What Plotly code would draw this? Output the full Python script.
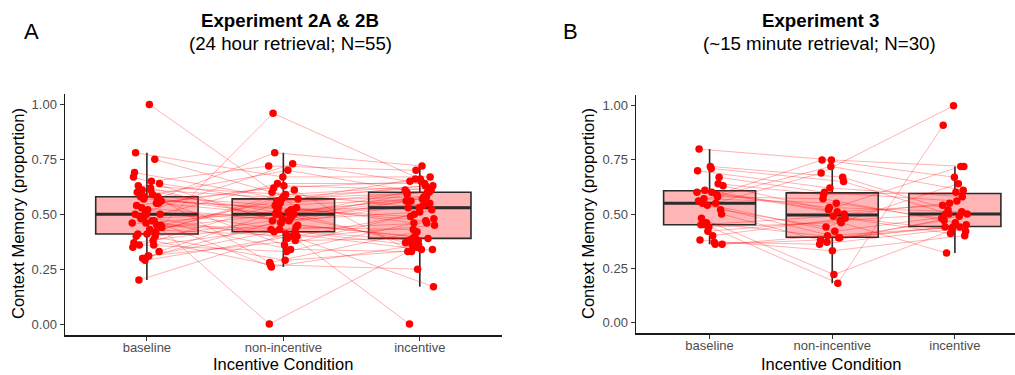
import numpy as np
import plotly.graph_objects as go

# ---------------- data ----------------
categories = ["baseline", "non-incentive", "incentive"]
y_tick_vals = [0.0, 0.25, 0.5, 0.75, 1.0]
y_tick_text = ["0.00", "0.25", "0.50", "0.75", "1.00"]

# Experiment 2A & 2B (N=55), one entry per subject
exp2_baseline = [0.50, 0.36, 0.61, 0.45, 1.00, 0.41, 0.55, 0.29, 0.67, 0.47,
                 0.58, 0.33, 0.52, 0.40, 0.75, 0.48, 0.44, 0.62, 0.20, 0.57,
                 0.46, 0.69, 0.38, 0.53, 0.50, 0.31, 0.60, 0.42, 0.58, 0.35,
                 0.65, 0.49, 0.55, 0.41, 0.78, 0.47, 0.30, 0.56, 0.43, 0.63,
                 0.45, 0.51, 0.37, 0.59, 0.48, 0.64, 0.31, 0.54, 0.40, 0.57,
                 0.46, 0.61, 0.36, 0.58, 0.50]
exp2_nonincentive = [0.48, 0.43, 0.50, 0.56, 0.53, 0.29, 0.62, 0.40, 0.46, 0.00,
                     0.70, 0.51, 0.42, 0.58, 0.60, 0.34, 0.50, 0.45, 0.41, 0.78,
                     0.52, 0.57, 0.27, 0.47, 0.64, 0.44, 0.36, 0.96, 0.49, 0.55,
                     0.72, 0.39, 0.50, 0.61, 0.67, 0.26, 0.48, 0.53, 0.40, 0.59,
                     0.42, 0.73, 0.46, 0.28, 0.51, 0.56, 0.38, 0.63, 0.47, 0.52,
                     0.43, 0.57, 0.33, 0.54, 0.50]
exp2_incentive = [0.55, 0.38, 0.60, 0.63, 0.46, 0.34, 0.65, 0.00, 0.39, 0.35,
                  0.61, 0.57, 0.36, 0.62, 0.53, 0.33, 0.58, 0.40, 0.17, 0.72,
                  0.49, 0.60, 0.25, 0.56, 0.64, 0.43, 0.52, 0.66, 0.38, 0.60,
                  0.70, 0.45, 0.54, 0.33, 0.67, 0.36, 0.59, 0.47, 0.50, 0.63,
                  0.34, 0.65, 0.55, 0.42, 0.37, 0.58, 0.39, 0.61, 0.51, 0.53,
                  0.46, 0.66, 0.48, 0.57, 0.56]

# Experiment 3 (N=30), one entry per subject
exp3_baseline = [0.80, 0.55, 0.45, 0.36, 0.60, 0.48, 0.64, 0.42, 0.70, 0.37,
                 0.57, 0.52, 0.72, 0.38, 0.59, 0.46, 0.63, 0.40, 0.55, 0.67,
                 0.44, 0.56, 0.36, 0.61, 0.50, 0.71, 0.45, 0.58, 0.54, 0.60]
exp3_nonincentive = [0.75, 0.69, 0.18, 0.40, 0.50, 0.22, 0.59, 0.47, 0.62, 0.36,
                     0.55, 0.44, 0.67, 0.33, 0.75, 0.39, 0.52, 0.48, 0.42, 0.60,
                     0.46, 0.72, 0.38, 0.51, 0.37, 0.65, 0.49, 0.57, 0.39, 0.53]
exp3_incentive = [0.72, 1.00, 0.91, 0.44, 0.55, 0.45, 0.60, 0.50, 0.58, 0.43,
                  0.48, 0.64, 0.52, 0.40, 0.67, 0.47, 0.72, 0.41, 0.50, 0.56,
                  0.32, 0.61, 0.44, 0.54, 0.49, 0.50, 0.42, 0.46, 0.44, 0.51]

# ---------------- styling ----------------
W, H = 1015, 375
FONT = "Liberation Sans, Arial, Helvetica, sans-serif"
BOX_FILL = "rgba(255,0,0,0.29)"
BOX_LINE = "#2b2b2b"
LINE_COL = "rgba(255,0,0,0.3)"
PT_COL = "#FF0000"
BOX_W = 0.75
JIT = 0.22


def jitter(n, phase):
    # deterministic horizontal jitter (positions only)
    return ((np.arange(n) * 0.6180339887 + phase) % 1.0 - 0.5) * JIT


def box_stats(v):
    v = np.asarray(v, dtype=float)
    q1, med, q3 = np.percentile(v, [25, 50, 75])
    iqr = q3 - q1
    lo = v[v >= q1 - 1.5 * iqr].min()
    hi = v[v <= q3 + 1.5 * iqr].max()
    return q1, med, q3, lo, hi


fig = go.Figure()

panels = [
    ("x", "y", [exp2_baseline, exp2_nonincentive, exp2_incentive]),
    ("x2", "y2", [exp3_baseline, exp3_nonincentive, exp3_incentive]),
]

for xa, ya, series in panels:
    stats = [box_stats(s) for s in series]
    pos = [1, 2, 3]
    fig.add_trace(go.Box(
        x=pos, q1=[s[0] for s in stats], median=[s[1] for s in stats],
        q3=[s[2] for s in stats], lowerfence=[s[3] for s in stats],
        upperfence=[s[4] for s in stats], width=BOX_W, whiskerwidth=0,
        fillcolor=BOX_FILL, line=dict(color=BOX_LINE, width=1.6),
        boxpoints=False, hoverinfo="skip", showlegend=False,
        xaxis=xa, yaxis=ya))
    # connecting lines per subject
    n = len(series[0])
    jx = [np.array(p) + jitter(n, ph) for p, ph in zip(pos, [0.11, 0.47, 0.83])]
    lx, ly = [], []
    for i in range(n):
        for k in range(3):
            lx.append(jx[k][i])
            ly.append(series[k][i])
        lx.append(None)
        ly.append(None)
    fig.add_trace(go.Scatter(x=lx, y=ly, mode="lines",
                             line=dict(color=LINE_COL, width=1),
                             hoverinfo="skip", showlegend=False,
                             xaxis=xa, yaxis=ya))
    # thick median bars
    mx, my = [], []
    for p, s in zip(pos, stats):
        mx += [p - BOX_W / 2, p + BOX_W / 2, None]
        my += [s[1], s[1], None]
    fig.add_trace(go.Scatter(x=mx, y=my, mode="lines",
                             line=dict(color=BOX_LINE, width=3),
                             hoverinfo="skip", showlegend=False,
                             xaxis=xa, yaxis=ya))
    # points
    px_, py_ = [], []
    for k in range(3):
        px_ += list(jx[k])
        py_ += list(series[k])
    fig.add_trace(go.Scatter(x=px_, y=py_, mode="markers",
                             marker=dict(color=PT_COL, size=7.5, line=dict(width=0)),
                             hoverinfo="skip", showlegend=False,
                             xaxis=xa, yaxis=ya))


def pxx(p):
    return p / W


def pxy(p):
    return 1 - p / H


xcommon = dict(tickvals=[1, 2, 3], ticktext=categories, showgrid=False,
               zeroline=False, showline=True, linecolor="#1a1a1a", linewidth=1.5,
               ticks="outside", ticklen=4, tickcolor="#333333", tickwidth=1,
               ticklabelstandoff=-4,
               tickfont=dict(family=FONT, size=13, color="#4D4D4D"),
               fixedrange=True)
ycommon = dict(tickvals=y_tick_vals, ticktext=y_tick_text, range=[-0.05, 1.05],
               showgrid=False, zeroline=False, showline=True, linecolor="#1a1a1a",
               linewidth=1.5, ticks="outside", ticklen=4, tickcolor="#333333",
               tickwidth=1, tickfont=dict(family=FONT, size=13, color="#4D4D4D"),
               fixedrange=True)

fig.update_layout(
    width=W, height=H, margin=dict(l=0, r=0, t=0, b=0),
    paper_bgcolor="white", plot_bgcolor="white", showlegend=False,
    font=dict(family=FONT, color="black"),
    xaxis=dict(domain=[pxx(65), pxx(501.7)], range=[0.4, 3.6], anchor="y", **xcommon),
    yaxis=dict(domain=[pxy(335), pxy(93.5)], anchor="x", **ycommon),
    xaxis2=dict(domain=[pxx(636), 1.0], range=[0.4, 3.49], anchor="y2", **xcommon),
    yaxis2=dict(domain=[pxy(333), pxy(95)], anchor="x2", **ycommon),
)

ann = []


def add_text(text, x, y, size, angle=0, color="black"):
    ann.append(dict(text=text, x=pxx(x), y=pxy(y), xref="paper", yref="paper",
                    showarrow=False, xanchor="center", yanchor="middle",
                    textangle=angle, font=dict(family=FONT, size=size, color=color)))


add_text("A", 31, 31, 22)
add_text("<b>Experiment 2A &amp; 2B</b>", 290, 20, 18.7)
add_text("(24 hour retrieval; N=55)", 290, 43, 18.7)
add_text("B", 570, 31, 22)
add_text("<b>Experiment 3</b>", 820, 20, 18.7)
add_text("(~15 minute retrieval; N=30)", 819, 43, 18.7)
add_text("Context Memory (proportion)", 18, 214, 16.5, angle=-90)
add_text("Context Memory (proportion)", 588, 214, 16.5, angle=-90)
add_text("Incentive Condition", 283, 364, 16.5)
add_text("Incentive Condition", 831, 364, 16.5)
fig.update_layout(annotations=ann)

fig.write_html(
    "out.html",
    config={"displayModeBar": False, "staticPlot": True},
    post_script="document.body.style.margin='0';document.body.style.padding='0';"
                "document.body.style.overflow='hidden';",
)
